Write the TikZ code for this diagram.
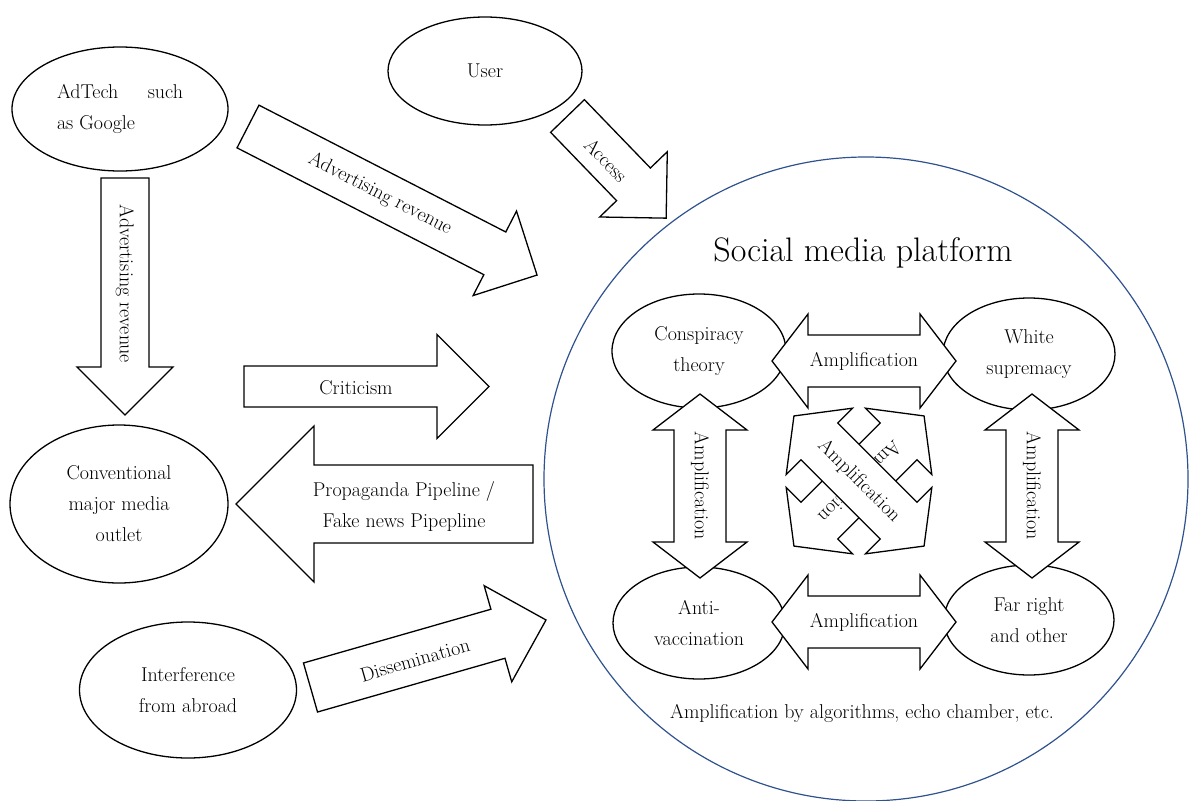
\documentclass[tikz,border=0pt]{standalone}
\usepackage{tikz}
\usepackage{xcolor}
\usetikzlibrary{shapes.geometric}

\definecolor{platformblue}{RGB}{47,82,143}

\tikzset{
  arrowline/.style={draw=black,line width=1.3pt,fill=white,line join=miter},
  bubble/.style={ellipse,draw=black,line width=1.3pt,fill=white,inner sep=0pt,align=center},
  lbl/.style={inner sep=0pt,align=center}
}

% block arrow: tail, angle, length, shaft width, head width (90 degree tip)
\newcommand{\blockarrow}[5]{%
  \begin{scope}[shift={#1},rotate=#2]
    \draw[arrowline] (0,{#4/2})--({#3-#5/2},{#4/2})--({#3-#5/2},{#5/2})--(#3,0)
      --({#3-#5/2},{-#5/2})--({#3-#5/2},{-#4/2})--(0,{-#4/2})--cycle;
  \end{scope}}

% two-headed arrow of fixed size: centre, angle
\newcommand{\twoway}[2]{%
  \begin{scope}[shift={#1},rotate=#2]
    \draw[arrowline] (-92,0)--(-56,47)--(-56,26)--(56,26)--(56,47)--(92,0)
      --(56,-47)--(56,-26)--(-56,-26)--(-56,-47)--cycle;
  \end{scope}}

\begin{document}
\begin{tikzpicture}[x=1pt,y=-1pt,font=\fontsize{20}{31}\selectfont]
\useasboundingbox (0,0) rectangle (1190,800);

\node[circle,draw=platformblue,line width=1.2pt,minimum size=644pt] (platform) at (866,479) {};
\node[lbl,font=\fontsize{34}{40}\selectfont] (title) at (863,253) {Social media platform};
\node[lbl] (footer) at (862,713) {Amplification by algorithms, echo chamber, etc.};

% outside actors
\node[bubble,minimum width=216pt,minimum height=124pt] (adtech) at (120,109)
  {\parbox{126pt}{AdTech\hfill such\\as Google}};
\node[bubble,minimum width=194pt,minimum height=108pt] (user) at (485,71) {User};
\node[bubble,minimum width=218pt,minimum height=158pt] (media) at (119,504)
  {Conventional\\major media\\outlet};
\node[bubble,minimum width=217pt,minimum height=136pt] (abroad) at (188,690)
  {Interference\\from abroad};

% groups on the platform
\node[bubble,minimum width=174pt,minimum height=114pt] (conspiracy) at (699,351) {Conspiracy\\theory};
\node[bubble,minimum width=172pt,minimum height=112pt] (white) at (1029,354) {White\\supremacy};
\node[bubble,minimum width=172pt,minimum height=112pt] (antivax) at (699,623) {Anti-\\vaccination};
\node[bubble,minimum width=170pt,minimum height=110pt] (farright) at (1029,620) {Far right\\and other};

% flows from outside
\blockarrow{(125,178)}{-90}{237}{48}{96}
\node[lbl,rotate=-90] (revdown) at (125,284) {Advertising revenue};
\blockarrow{(248,126.5)}{-27.2}{325}{48}{95}
\node[lbl,rotate=-27.2] (revdiag) at (380,194) {Advertising revenue};
\blockarrow{(567.5,116)}{-46}{142}{47}{94}
\node[lbl,rotate=-46] (access) at (606,160) {Access};
\blockarrow{(244,386.5)}{0}{245}{41}{104}
\node[lbl] (criticism) at (356,388) {Criticism};
\blockarrow{(533,504)}{180}{297}{78}{156}
\node[lbl] (pipeline) at (404,506) {Propaganda Pipeline /\\Fake news Pipepline};
\blockarrow{(310.5,687.5)}{16}{245}{51}{100}
\node[lbl,rotate=16] (spread) at (415,660) {Dissemination};

% amplification between groups
\twoway{(864,361)}{0}
\node[lbl] (amptop) at (864,361) {Amplification};
\twoway{(864,622)}{0}
\node[lbl] (ampbottom) at (864,622) {Amplification};
\twoway{(700,486)}{90}
\node[lbl,rotate=-90] (ampleft) at (700,486) {Amplification};
\twoway{(1032,486)}{90}
\node[lbl,rotate=-90] (ampright) at (1032,486) {Amplification};
\twoway{(859,481)}{45}
\node[lbl,rotate=-135] (ampcross) at (859,481) {Amplification};
\twoway{(859,481)}{-45}
\node[lbl,rotate=-45] (ampdiag) at (859,481) {Amplification};
\end{tikzpicture}
\end{document}
